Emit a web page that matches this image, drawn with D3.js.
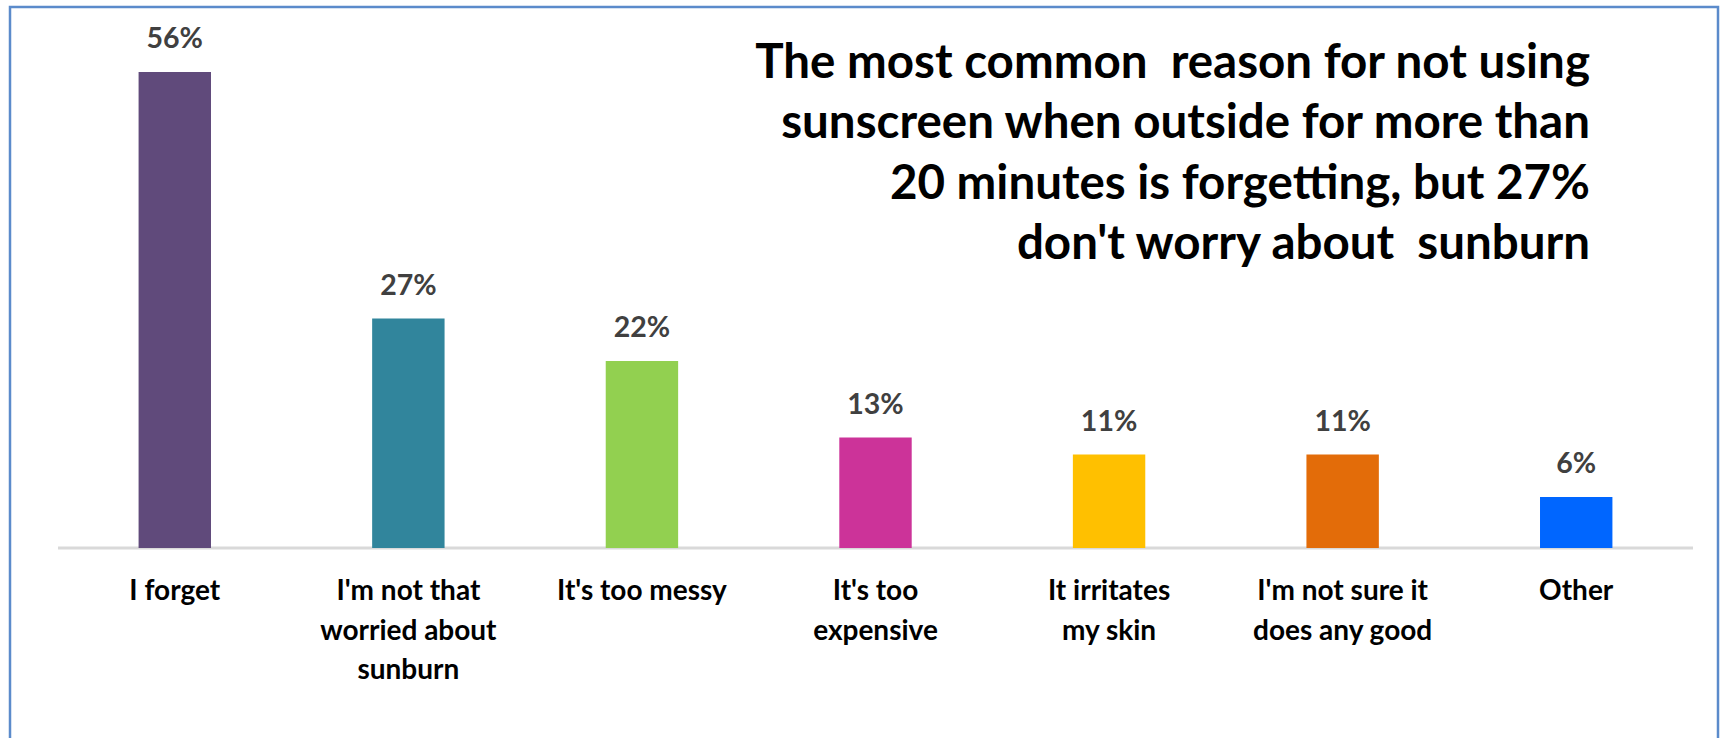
<!DOCTYPE html>
<html>
<head>
<meta charset="utf-8">
<script src="https://cdn.jsdelivr.net/npm/d3@7"></script>
<style>
  html, body { margin: 0; padding: 0; background: #ffffff; overflow: hidden; }
  svg { display: block; }
</style>
</head>
<body>
<svg id="chart" width="1721" height="738"></svg>
<script>
// ---- data ----
const categories = [
  "I forget",
  "I'm not that worried about sunburn",
  "It's too messy",
  "It's too expensive",
  "It irritates my skin",
  "I'm not sure it does any good",
  "Other"
];
const categoryLines = [
  ["I forget"],
  ["I'm not that", "worried about", "sunburn"],
  ["It's too messy"],
  ["It's too", "expensive"],
  ["It irritates", "my skin"],
  ["I'm not sure it", "does any good"],
  ["Other"]
];
const values = [56, 27, 22, 13, 11, 11, 6];
const valueLabels = ["56%", "27%", "22%", "13%", "11%", "11%", "6%"];
const barColors = ["#604A7B", "#31859C", "#92D050", "#CC3399", "#FFC000", "#E36C09", "#0066FF"];
const titleLines = [
  "The most common  reason for not using",
  "sunscreen when outside for more than",
  "20 minutes is forgetting, but 27%",
  "don't worry about  sunburn"
];

// ---- layout ----
const W = 1721, H = 738;
const plot = { left: 58, right: 1693, baseline: 548, top: 72 };
const FONT = "Lato, 'Open Sans', sans-serif";

const svg = d3.select("#chart");

// frame border
svg.append("rect")
  .attr("x", 10).attr("y", 7)
  .attr("width", 1708).attr("height", 760)
  .attr("fill", "#ffffff")
  .attr("stroke", "#5B8BCB")
  .attr("stroke-width", 2.5);

const x = d3.scaleBand()
  .domain(categories)
  .range([plot.left, plot.right])
  .paddingInner(0.69)
  .paddingOuter(0.345);

const y = d3.scaleLinear()
  .domain([0, 56])
  .range([plot.baseline, plot.top]);

// axis line
svg.append("line")
  .attr("x1", plot.left).attr("x2", plot.right)
  .attr("y1", plot.baseline).attr("y2", plot.baseline)
  .attr("stroke", "#D9D9D9")
  .attr("stroke-width", 3);

// bars
svg.append("g").selectAll("rect")
  .data(values)
  .join("rect")
  .attr("x", (d, i) => x(categories[i]))
  .attr("y", d => y(d))
  .attr("width", x.bandwidth())
  .attr("height", d => y(0) - y(d))
  .attr("fill", (d, i) => barColors[i]);

// value labels
svg.append("g").selectAll("text")
  .data(values)
  .join("text")
  .attr("x", (d, i) => x(categories[i]) + x.bandwidth() / 2)
  .attr("y", d => y(d) - 24)
  .attr("text-anchor", "middle")
  .attr("font-family", FONT)
  .attr("font-weight", 700)
  .attr("font-size", 28.5)
  .attr("fill", "#404040")
  .text((d, i) => valueLabels[i]);

// category labels
const catG = svg.append("g");
categories.forEach((c, i) => {
  const t = catG.append("text")
    .attr("x", x(c) + x.bandwidth() / 2)
    .attr("y", 600)
    .attr("text-anchor", "middle")
    .attr("font-family", FONT)
    .attr("font-weight", 700)
    .attr("font-size", 28)
    .attr("fill", "#000000");
  categoryLines[i].forEach((line, j) => {
    t.append("tspan")
      .attr("x", x(c) + x.bandwidth() / 2)
      .attr("dy", j === 0 ? 0 : 39.5)
      .text(line);
  });
});

// title
const title = svg.append("text")
  .attr("x", 1590)
  .attr("y", 78)
  .attr("text-anchor", "end")
  .attr("font-family", FONT)
  .attr("font-weight", 700)
  .attr("font-size", 47.5)
  .attr("fill", "#000000")
  .attr("xml:space", "preserve")
  .style("white-space", "pre");
titleLines.forEach((line, j) => {
  title.append("tspan")
    .attr("x", 1590)
    .attr("dy", j === 0 ? 0 : 60.3)
    .text(line);
});
</script>
</body>
</html>
